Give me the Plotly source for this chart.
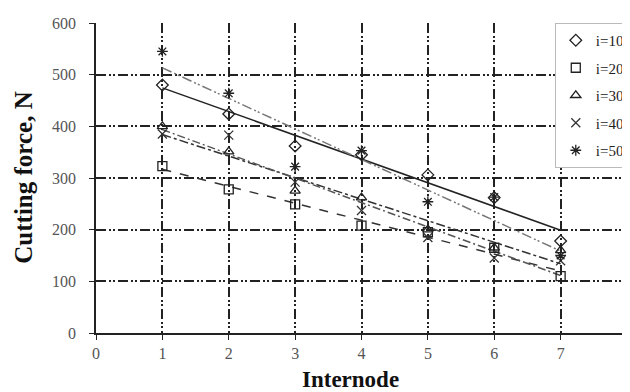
import numpy as np
import plotly.graph_objects as go

internode = [1, 2, 3, 4, 5, 6, 7]
series_names = ["i=10", "i=20", "i=30", "i=40", "i=50"]
i10 = [480, 424, 362, 345, 306, 262, 178]
i20 = [323, 278, 249, 208, 195, 165, 110]
i30 = [400, 351, 275, 262, 200, 165, 160]
i40 = [385, 383, 292, 237, 185, 145, 140]
i50 = [545, 464, 322, 353, 254, 263, 150]
x_ticks = [0, 1, 2, 3, 4, 5, 6, 7, 8]
y_ticks = [0, 100, 200, 300, 400, 500, 600]

values = [i10, i20, i30, i40, i50]
symbols = ["diamond-open", "square-open", "triangle-up-open", "x-thin-open", "asterisk-open"]
marker_colors = ["#222222", "#222222", "#222222", "#333333", "#222222"]
line_dash = ["solid", "dash", "dashdot", "8px,3px,2px,3px", "10px,3px,2px,2px,2px,3px"]
line_colors = ["#222222", "#333333", "#333333", "#555555", "#777777"]
serif = "Liberation Serif, Times New Roman, serif"

fig = go.Figure()
x = np.array(internode, dtype=float)
for name, v, sym, mc, dsh, lc in zip(series_names, values, symbols, marker_colors, line_dash, line_colors):
    k, b = np.polyfit(x, np.array(v, dtype=float), 1)
    fig.add_trace(go.Scatter(x=[x[0], x[-1]], y=[k * x[0] + b, k * x[-1] + b], mode="lines",
                             line=dict(color=lc, width=1.5, dash=dsh), showlegend=False, hoverinfo="skip"))
for name, v, sym, mc in zip(series_names, values, symbols, marker_colors):
    fig.add_trace(go.Scatter(x=internode, y=v, mode="markers", name=name, legendgroup=name,
                             marker=dict(symbol=sym, size=9, color=mc, line=dict(width=1.3, color=mc))))

grid_dash = "10px,3px,2px,2px,2px,3px"
fig.update_layout(
    width=630, height=392,
    margin=dict(l=88, r=7, t=10, b=67),
    paper_bgcolor="white", plot_bgcolor="white",
    font=dict(family=serif, color="#222"),
    legend=dict(x=0.864, y=1, xanchor="left", yanchor="top", bgcolor="white",
                bordercolor="#bbbbbb", borderwidth=1, font=dict(size=15, family=serif, color="#222"),
                tracegroupgap=5),
    xaxis=dict(range=[0, 8], tickvals=x_ticks, ticks="outside", ticklen=5, tickcolor="#222",
               showline=True, linecolor="#222", linewidth=1.5,
               showgrid=True, gridcolor="#222", gridwidth=2, griddash=grid_dash, zeroline=False,
               tickfont=dict(size=16, color="#555", family=serif)),
    yaxis=dict(range=[0, 600], tickvals=y_ticks, ticks="outside", ticklen=5, tickcolor="#222",
               showline=True, linecolor="#222", linewidth=1.5, ticklabelstandoff=10,
               showgrid=True, gridcolor="#222", gridwidth=2, griddash=grid_dash, zeroline=False,
               tickfont=dict(size=16, color="#555", family=serif)),
    annotations=[
        dict(text="<b>Internode</b>", xref="paper", yref="paper", x=0.479, y=-0.149,
             xanchor="center", yanchor="middle", showarrow=False,
             font=dict(size=23, family=serif, color="#111")),
        dict(text="<b>Cutting force, N</b>", xref="paper", yref="paper", x=-0.138, y=0.5,
             xanchor="center", yanchor="middle", showarrow=False, textangle=-90,
             font=dict(size=25, family=serif, color="#111")),
    ],
)
fig.write_html("out.html")
